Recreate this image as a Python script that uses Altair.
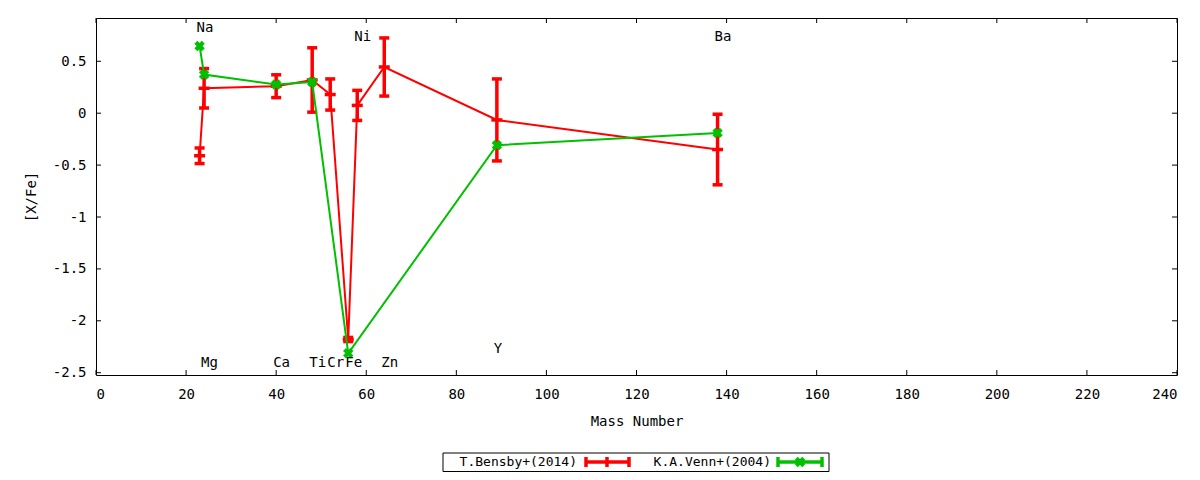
import altair as alt
import pandas as pd

# ---- data ----
elements = ["Na", "Mg", "Ca", "Ti", "Cr", "Fe", "Ni", "Zn", "Y", "Ba"]
mass_numbers = [23, 24, 40, 48, 52, 56, 58, 64, 89, 138]

bensby_val = [-0.41, 0.24, 0.26, 0.32, 0.18, -2.18, 0.075, 0.445, -0.065, -0.35]
bensby_err = [0.075, 0.19, 0.11, 0.31, 0.15, 0.02, 0.145, 0.28, 0.395, 0.34]

venn_elements = ["Na", "Mg", "Ca", "Ti", "Fe", "Y", "Ba"]
venn_mass = [23, 24, 40, 48, 56, 89, 138]
venn_val = [0.647, 0.372, 0.276, 0.30, -2.313, -0.308, -0.19]

label_y = [0.82, -2.41, -2.41, -2.41, -2.41, -2.41, 0.73, -2.41, -2.27, 0.73]

x_ticks = list(range(0, 241, 20))
y_ticks = [-2.5, -2, -1.5, -1, -0.5, 0, 0.5]

X_DOMAIN = [0, 240]
Y_DOMAIN = [-2.522, 0.917]

RED = "#ff0000"
GREEN = "#00c000"
FONT = "DejaVu Sans Mono"
FS = 14
W, H = 1081, 357

# ---- tables ----
bensby = pd.DataFrame({"el": elements, "mass": mass_numbers, "val": bensby_val, "err": bensby_err})
bensby["lo"] = bensby["val"] - bensby["err"]
bensby["hi"] = bensby["val"] + bensby["err"]
venn = pd.DataFrame({"el": venn_elements, "mass": venn_mass, "val": venn_val})
labels = pd.DataFrame({"el": elements, "mass": mass_numbers, "ly": label_y})
xt = pd.DataFrame({"t": x_ticks})
yt = pd.DataFrame({"t": y_ticks})

xs = alt.Scale(domain=X_DOMAIN, nice=False, zero=False)
ys = alt.Scale(domain=Y_DOMAIN, nice=False, zero=False)

x_axis = alt.Axis(values=x_ticks, grid=False, ticks=False, domain=False,
                  labelFont=FONT, labelFontSize=FS, labelColor="black", labelPadding=12,
                  labelExpr="toString(datum.value)",
                  titleFont=FONT, titleFontSize=FS, titleFontWeight="normal", titleColor="black",
                  titlePadding=13)
y_axis = alt.Axis(values=y_ticks, grid=False, ticks=False, domain=False,
                  labelFont=FONT, labelFontSize=FS, labelColor="black", labelPadding=10,
                  labelExpr="toString(datum.value)",
                  titleFont=FONT, titleFontSize=FS, titleFontWeight="normal", titleColor="black",
                  titleX=-65, titleY=H / 2, titleAngle=270, titleAlign="center", titleBaseline="middle")


def X(field):
    return alt.X(field, scale=xs, axis=x_axis, title="Mass Number")


def Y(field):
    return alt.Y(field, scale=ys, axis=y_axis, title="[X/Fe]")


# inward ticks (gnuplot style, mirrored)
tick_b = alt.Chart(xt).mark_rule(color="black", strokeWidth=1).encode(
    x=X("t:Q"), y=alt.value(H), y2=alt.value(H - 5))
tick_t = alt.Chart(xt).mark_rule(color="black", strokeWidth=1).encode(
    x=X("t:Q"), y=alt.value(0), y2=alt.value(5))
tick_l = alt.Chart(yt).mark_rule(color="black", strokeWidth=1).encode(
    y=Y("t:Q"), x=alt.value(0), x2=alt.value(5))
tick_r = alt.Chart(yt).mark_rule(color="black", strokeWidth=1).encode(
    y=Y("t:Q"), x=alt.value(W), x2=alt.value(W - 5))

red_line = alt.Chart(bensby).mark_line(color=RED, strokeWidth=2).encode(
    x=X("mass:Q"), y=Y("val:Q"), order="mass:Q")
red_bar = alt.Chart(bensby).mark_rule(color=RED, strokeWidth=3.5).encode(
    x=X("mass:Q"), y=Y("lo:Q"), y2="hi:Q")
red_cap_lo = alt.Chart(bensby).mark_tick(color=RED, orient="horizontal", size=10, thickness=3.5, opacity=1).encode(
    x=X("mass:Q"), y=Y("lo:Q"))
red_cap_hi = alt.Chart(bensby).mark_tick(color=RED, orient="horizontal", size=10, thickness=3.5, opacity=1).encode(
    x=X("mass:Q"), y=Y("hi:Q"))
red_pt = alt.Chart(bensby).mark_tick(color=RED, orient="horizontal", size=11, thickness=3.5, opacity=1).encode(
    x=X("mass:Q"), y=Y("val:Q"))

green_line = alt.Chart(venn).mark_line(color=GREEN, strokeWidth=2).encode(
    x=X("mass:Q"), y=Y("val:Q"), order="mass:Q")
green_pt = alt.Chart(venn).mark_point(shape="cross", angle=45, filled=True, size=110, color=GREEN, opacity=1).encode(
    x=X("mass:Q"), y=Y("val:Q"))

el_text = alt.Chart(labels).mark_text(font=FONT, fontSize=FS, color="black", align="left",
                                       baseline="middle", dx=-3).encode(
    x=X("mass:Q"), y=Y("ly:Q"), text="el:N")

# gnuplot-style key below the plot
LY = 444
LFS = 13
leg_data = pd.DataFrame({"k": [0]})
leg_box = alt.Chart(leg_data).mark_rect(fill="white", stroke="black", strokeWidth=1).encode(
    x=alt.value(347), x2=alt.value(733), y=alt.value(435), y2=alt.value(453.5))
leg_t1 = alt.Chart(leg_data).mark_text(font=FONT, fontSize=LFS, color="black", align="right",
                                        baseline="middle", text="T.Bensby+(2014)").encode(
    x=alt.value(481), y=alt.value(LY))
leg_t2 = alt.Chart(leg_data).mark_text(font=FONT, fontSize=LFS, color="black", align="right",
                                        baseline="middle", text="K.A.Venn+(2004)").encode(
    x=alt.value(675), y=alt.value(LY))


def leg_sample(x0, x1, color, width):
    return [
        alt.Chart(leg_data).mark_rule(color=color, strokeWidth=width).encode(
            x=alt.value(x0), x2=alt.value(x1), y=alt.value(LY)),
        alt.Chart(leg_data).mark_rule(color=color, strokeWidth=3.5).encode(
            x=alt.value(x0), y=alt.value(LY - 5), y2=alt.value(LY + 5)),
        alt.Chart(leg_data).mark_rule(color=color, strokeWidth=3.5).encode(
            x=alt.value(x1), y=alt.value(LY - 5), y2=alt.value(LY + 5)),
    ]


red_leg = leg_sample(490, 533, RED, 3.5) + [
    alt.Chart(leg_data).mark_rule(color=RED, strokeWidth=3.5).encode(
        x=alt.value(511), y=alt.value(LY - 5), y2=alt.value(LY + 5))]
green_leg = leg_sample(682, 726, GREEN, 3.5) + [
    alt.Chart(leg_data).mark_point(shape="cross", angle=45, filled=True, size=110, color=GREEN, opacity=1).encode(
        x=alt.value(704), y=alt.value(LY))]

chart = alt.layer(
    red_line, red_bar, red_cap_lo, red_cap_hi, red_pt,
    green_line, green_pt,
    tick_b, tick_t, tick_l, tick_r,
    el_text,
    leg_box, leg_t1, leg_t2, *red_leg, *green_leg,
).properties(
    width=W, height=H,
    autosize=alt.AutoSizeParams(type="none"),
    padding={"left": 88, "top": 10, "right": 15, "bottom": 97},
    background="white",
).configure_view(stroke="black", strokeWidth=1, clip=False)

chart.save("out.html", embed_options={"renderer": "svg", "actions": False})
